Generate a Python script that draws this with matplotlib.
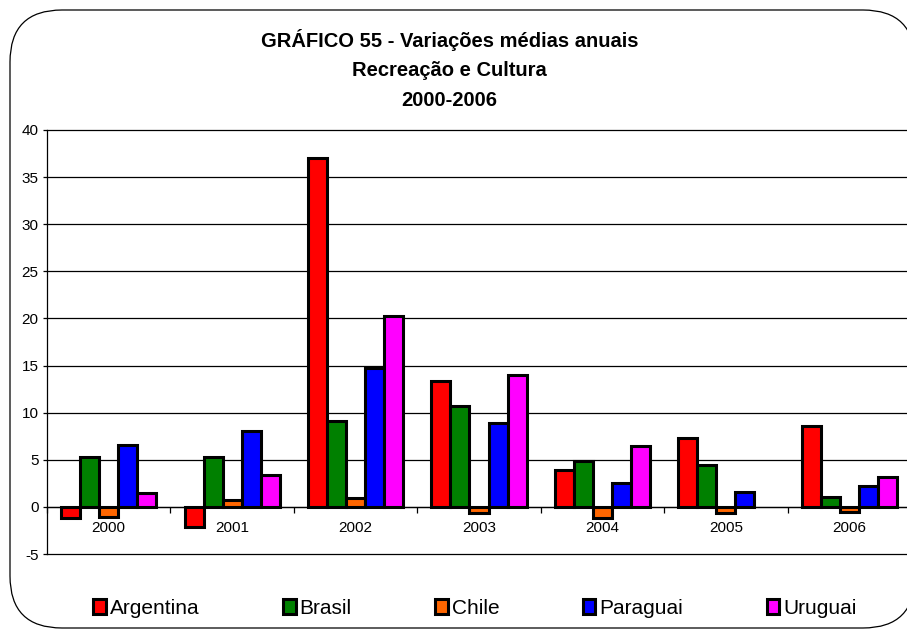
import numpy as np
import matplotlib
matplotlib.use('Agg')
import matplotlib.pyplot as plt
from matplotlib.patches import FancyBboxPatch

plt.rcParams['font.family'] = ['Liberation Sans', 'DejaVu Sans']
plt.rcParams['axes.unicode_minus'] = False

years = ['2000', '2001', '2002', '2003', '2004', '2005', '2006']
paises = ['Argentina', 'Brasil', 'Chile', 'Paraguai', 'Uruguai']
argentina = [-1.2, -2.1, 37.0, 13.4, 3.9, 7.3, 8.6]
brasil = [5.3, 5.3, 9.1, 10.7, 4.9, 4.4, 1.1]
chile = [-1.1, 0.7, 0.9, -0.7, -1.2, -0.6, -0.5]
paraguai = [6.6, 8.1, 14.7, 8.9, 2.5, 1.6, 2.2]
uruguai = [1.5, 3.4, 20.3, 14.0, 6.5, np.nan, 3.2]  # 2005 sem dado
cores = ['#FF0000', '#008000', '#FF6600', '#0000FF', '#FF00FF']

series = [argentina, brasil, chile, paraguai, uruguai]

fig = plt.figure(figsize=(9.07, 6.3), dpi=100)

# moldura arredondada (em pixels)
bg = fig.add_axes([0, 0, 1, 1], zorder=-1)
bg.set_xlim(0, 907); bg.set_ylim(0, 630); bg.axis('off')
bg.add_patch(FancyBboxPatch((10, 2), 905, 618, boxstyle='round,pad=0,rounding_size=52',
                            fc='white', ec='black', lw=0.9))

ax = fig.add_axes([47 / 907, 76 / 630, 864 / 907, 424 / 630])
ax.patch.set_alpha(0)
x = np.arange(len(years))
w = 0.154
for i, (nome, vals, c) in enumerate(zip(paises, series, cores)):
    ax.bar(x + (i - 2) * w, vals, w, color=c, edgecolor='black', linewidth=2.2,
           label=nome, zorder=3)

ax.set_xlim(-0.5, len(years) - 0.5)
ax.set_ylim(-5, 40)
ax.set_yticks(range(-5, 41, 5))
ax.yaxis.grid(True, color='black', linewidth=0.9, zorder=0)
for gl in ax.get_ygridlines():
    gl.set_clip_on(False)
ax.set_axisbelow(True)
for s in ['top', 'right']:
    ax.spines[s].set_visible(False)
ax.spines['left'].set_linewidth(0.9)
ax.spines['bottom'].set_position(('data', 0))
ax.spines['bottom'].set_linewidth(0.9)
ax.set_xticks(x)
ax.set_xticklabels(years)
ax.set_xticks(np.arange(-0.5, len(years)), minor=True)
ax.tick_params(axis='x', which='major', length=0, pad=10, labelsize=11, colors='black')
ax.tick_params(axis='x', which='minor', length=4, width=0.9, direction='out')
ax.tick_params(axis='y', length=3, width=0.9, pad=3, labelsize=11)

for yy, txt in [(40, 'GRÁFICO 55 - Variações médias anuais'),
                (70, 'Recreação e Cultura'), (100, '2000-2006')]:
    fig.text(449.5 / 907, 1 - yy / 630, txt, ha='center', va='center',
             fontsize=14.5, fontweight='bold')

fig.legend(loc='center', bbox_to_anchor=(475 / 907, 22 / 630), ncol=5, frameon=False,
           fontsize=15, handlelength=0.6, handleheight=0.75, handletextpad=0.2,
           columnspacing=4.0, borderaxespad=0)

fig.savefig('out.png', dpi=100)
